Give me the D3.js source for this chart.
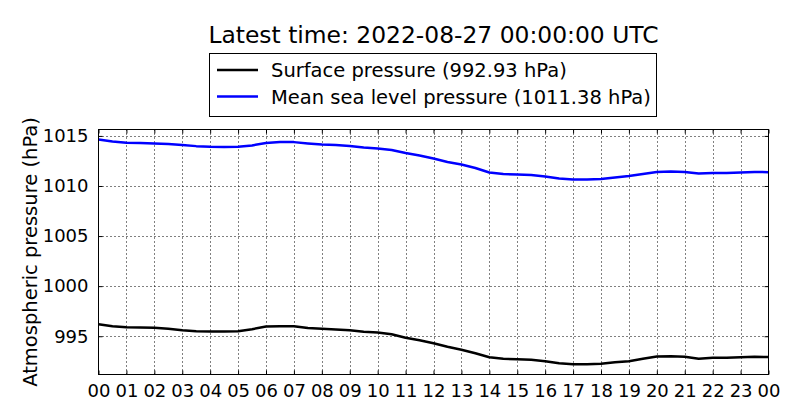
<!DOCTYPE html>
<html><head><meta charset="utf-8">
<script src="https://cdn.jsdelivr.net/npm/d3@7"></script>
<style>body{margin:0;background:#fff}svg{display:block}text{font-family:"DejaVu Sans",sans-serif}</style>
</head><body><svg id="c" width="800" height="420"></svg>
<script>
const hours = [0,0.5,1,1.5,2,2.5,3,3.5,4,4.5,5,5.5,6,6.5,7,7.5,8,8.5,9,9.5,10,10.5,11,11.5,12,12.5,13,13.5,14,14.5,15,15.5,16,16.5,17,17.5,18,18.5,19,19.5,20,20.5,21,21.5,22,22.5,23,23.5,24];
const mslp = [1014.65,1014.45,1014.32,1014.3,1014.25,1014.2,1014.1,1013.98,1013.92,1013.9,1013.92,1014.05,1014.3,1014.38,1014.38,1014.25,1014.15,1014.1,1014.0,1013.85,1013.75,1013.6,1013.3,1013.05,1012.75,1012.4,1012.15,1011.8,1011.35,1011.2,1011.15,1011.1,1010.95,1010.75,1010.65,1010.65,1010.7,1010.85,1011.0,1011.2,1011.4,1011.45,1011.4,1011.25,1011.3,1011.3,1011.35,1011.4,1011.38];
const surface = [996.2,996.0,995.9,995.88,995.85,995.75,995.6,995.5,995.48,995.48,995.5,995.7,995.98,996.0,996.0,995.82,995.75,995.68,995.6,995.45,995.38,995.2,994.85,994.6,994.3,993.95,993.65,993.3,992.9,992.75,992.7,992.65,992.5,992.3,992.2,992.2,992.25,992.4,992.5,992.75,992.98,993.0,992.95,992.75,992.85,992.85,992.9,992.95,992.93];
const xTickLabels = ["00","01","02","03","04","05","06","07","08","09","10","11","12","13","14","15","16","17","18","19","20","21","22","23","00"];
const yTicks = [995,1000,1005,1010,1015];
const legendLabels = ["Surface pressure (992.93 hPa)","Mean sea level pressure (1011.38 hPa)"];
const seriesColors = ["#000000","#0000ff"];
const titleText = "Latest time: 2022-08-27 00:00:00 UTC";
const yLabel = "Atmospheric pressure (hPa)";

const svg = d3.select("#c");
const L=98.5, R=768.5, T=129.5, B=374.5;
const x = d3.scaleLinear().domain([0,24]).range([L,R]);
const y = d3.scaleLinear().domain([991.18,1015.64]).range([B,T]);

// grid
const g = svg.append("g");
g.selectAll(".vg").data(d3.range(1,24)).join("line")
 .attr("x1",d=>Math.round(x(d))+0.5).attr("x2",d=>Math.round(x(d))+0.5).attr("y1",T).attr("y2",B)
 .attr("stroke","#000").attr("stroke-width",1).attr("stroke-dasharray","1,3");
g.selectAll(".hg").data(yTicks).join("line")
 .attr("y1",d=>Math.round(y(d))+0.5).attr("y2",d=>Math.round(y(d))+0.5).attr("x1",L).attr("x2",R)
 .attr("stroke","#000").attr("stroke-width",1).attr("stroke-dasharray","1,3");

// lines
const lineGen = vals => d3.line().x((d,i)=>x(hours[i])).y(d=>y(d))(vals);
[surface,mslp].forEach((vals,i)=>{
  svg.append("path").attr("d",lineGen(vals)).attr("fill","none")
   .attr("stroke",seriesColors[i]).attr("stroke-width",2.5).attr("stroke-linejoin","round");
});

// axes with inward ticks
const xb = d3.axisBottom(x).tickValues(d3.range(0,25)).tickFormat((d,i)=>xTickLabels[i]).tickSizeInner(-4).tickSizeOuter(0).tickPadding(10);
const xt = d3.axisTop(x).tickValues(d3.range(0,25)).tickFormat("").tickSizeInner(-4).tickSizeOuter(0);
const yl = d3.axisLeft(y).tickValues(yTicks).tickFormat(d3.format("d")).tickSizeInner(-4).tickSizeOuter(0).tickPadding(10);
const yr = d3.axisRight(y).tickValues(yTicks).tickFormat("").tickSizeInner(-4).tickSizeOuter(0);
[[xb,`translate(0,${B})`],[xt,`translate(0,${T})`],[yl,`translate(${L},0)`],[yr,`translate(${R},0)`]].forEach(([ax,tr])=>{
  const a = svg.append("g").attr("transform",tr).call(ax);
  a.select(".domain").remove();
  a.selectAll("text").attr("font-size",18).attr("fill","#000").attr("font-family","DejaVu Sans");
  a.selectAll("line").attr("stroke","#000");
});
svg.append("rect").attr("x",L).attr("y",T).attr("width",R-L).attr("height",B-T)
 .attr("fill","none").attr("stroke","#000").attr("stroke-width",1);

// title
svg.append("text").attr("x",(L+R)/2).attr("y",43).attr("text-anchor","middle")
 .attr("font-size",23.4).text(titleText);

// y label
svg.append("text").attr("transform",`translate(37,${(T+B)/2}) rotate(-90)`).attr("text-anchor","middle")
 .attr("font-size",19.5).text(yLabel);

// legend
svg.append("rect").attr("x",209.5).attr("y",53.5).attr("width",447).attr("height",63)
 .attr("fill","#fff").attr("stroke","#000").attr("stroke-width",1);
legendLabels.forEach((t,i)=>{
  const cy = 70 + i*26.5;
  svg.append("line").attr("x1",217).attr("x2",258).attr("y1",cy).attr("y2",cy)
   .attr("stroke",seriesColors[i]).attr("stroke-width",2.5);
  svg.append("text").attr("x",271).attr("y",cy+7).attr("font-size",19.5).text(t);
});
</script></body></html>
